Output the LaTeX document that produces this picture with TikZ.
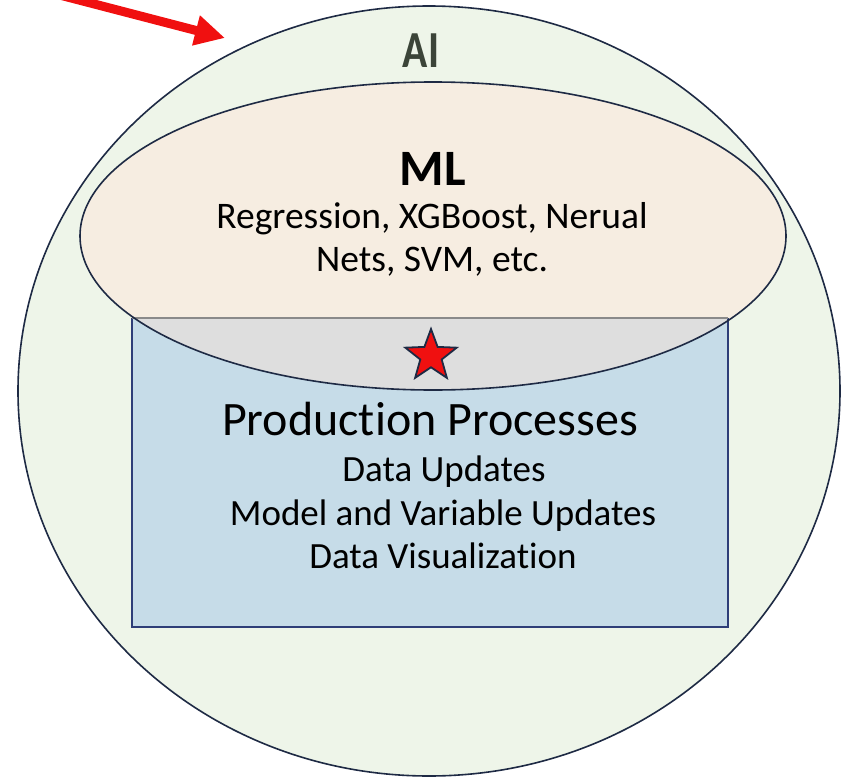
\documentclass[tikz,border=0pt]{standalone}
\usepackage{fontspec}
\setmainfont{Carlito}[Ligatures=NoCommon]
\newfontfamily\aifont{Carlito}[FakeStretch=0.8, Ligatures=NoCommon]
\usetikzlibrary{arrows.meta,shapes.geometric}

\definecolor{aifill}{HTML}{EEF5E9}
\definecolor{mlfill}{HTML}{F6EDE1}
\definecolor{overlap}{HTML}{DEDEDE}
\definecolor{procfill}{HTML}{C6DCE8}
\definecolor{outline}{HTML}{1E2A44}
\definecolor{procline}{HTML}{2E3E78}
\definecolor{topline}{HTML}{8A8A8A}
\definecolor{aitext}{HTML}{3B4438}
\definecolor{pointer}{HTML}{F01010}

\tikzset{
  bodytext/.style={anchor=base, text=black, inner sep=0pt},
  setline/.style={draw=outline, line width=1.6pt},
}

\begin{document}
\begin{tikzpicture}[x=1pt, y=-1pt]
  \useasboundingbox (0,0) rectangle (846,779);

  % outer AI set
  \fill[aifill] (429,391) ellipse [x radius=411, y radius=385];
  \draw[setline] (429,391) ellipse [x radius=411, y radius=385];

  % ML set
  \fill[mlfill] (433,236) ellipse [x radius=353, y radius=154];

  % production processes box
  \fill[procfill] (132,318) rectangle (728,627);
  \begin{scope}
    \clip (433,236) ellipse [x radius=353, y radius=154];
    \fill[overlap] (132,318) rectangle (728,627);
  \end{scope}
  \draw[procline, line width=1.6pt] (132,318) -- (132,627) -- (728,627) -- (728,318);
  \draw[topline, line width=1.8pt] (132,318) -- (728,318);

  % ML outline on top
  \draw[setline] (433,236) ellipse [x radius=353, y radius=154];

  % labels
  \node[bodytext, text=aitext, font=\aifont\bfseries\fontsize{52}{52}\selectfont] (ai) at (421,67) {AI};
  \node[bodytext, font=\bfseries\fontsize{51}{51}\selectfont] (ml) at (433,185) {ML};
  \node[bodytext, font=\fontsize{37.5}{40}\selectfont] (mlA) at (432,228) {Regression, XGBoost, Nerual};
  \node[bodytext, font=\fontsize{37.5}{40}\selectfont] (mlB) at (432,271) {Nets, SVM, etc.};

  \node[bodytext, font=\fontsize{48}{48}\selectfont] (pp) at (430,435) {Production Processes};
  \node[bodytext, font=\fontsize{37}{40}\selectfont] (ppA) at (444,481) {Data Updates};
  \node[bodytext, font=\fontsize{37}{40}\selectfont] (ppB) at (443,525) {Model and Variable Updates};
  \node[bodytext, font=\fontsize{37}{40}\selectfont] (ppC) at (443,568) {Data Visualization};

  % star in the overlap
  \node[star, star points=5, star point ratio=2.4, minimum size=54pt, inner sep=0pt,
        fill=pointer, draw=outline, line width=1.8pt] (star) at (431,356) {};

  % red pointer arrow
  \coordinate (arrowstart) at (25,-14);
  \coordinate (arrowtip) at (225,38);
  \draw[pointer, line width=9pt, -{Triangle[length=30pt, width=29pt]}] (arrowstart) -- (arrowtip);
\end{tikzpicture}
\end{document}
